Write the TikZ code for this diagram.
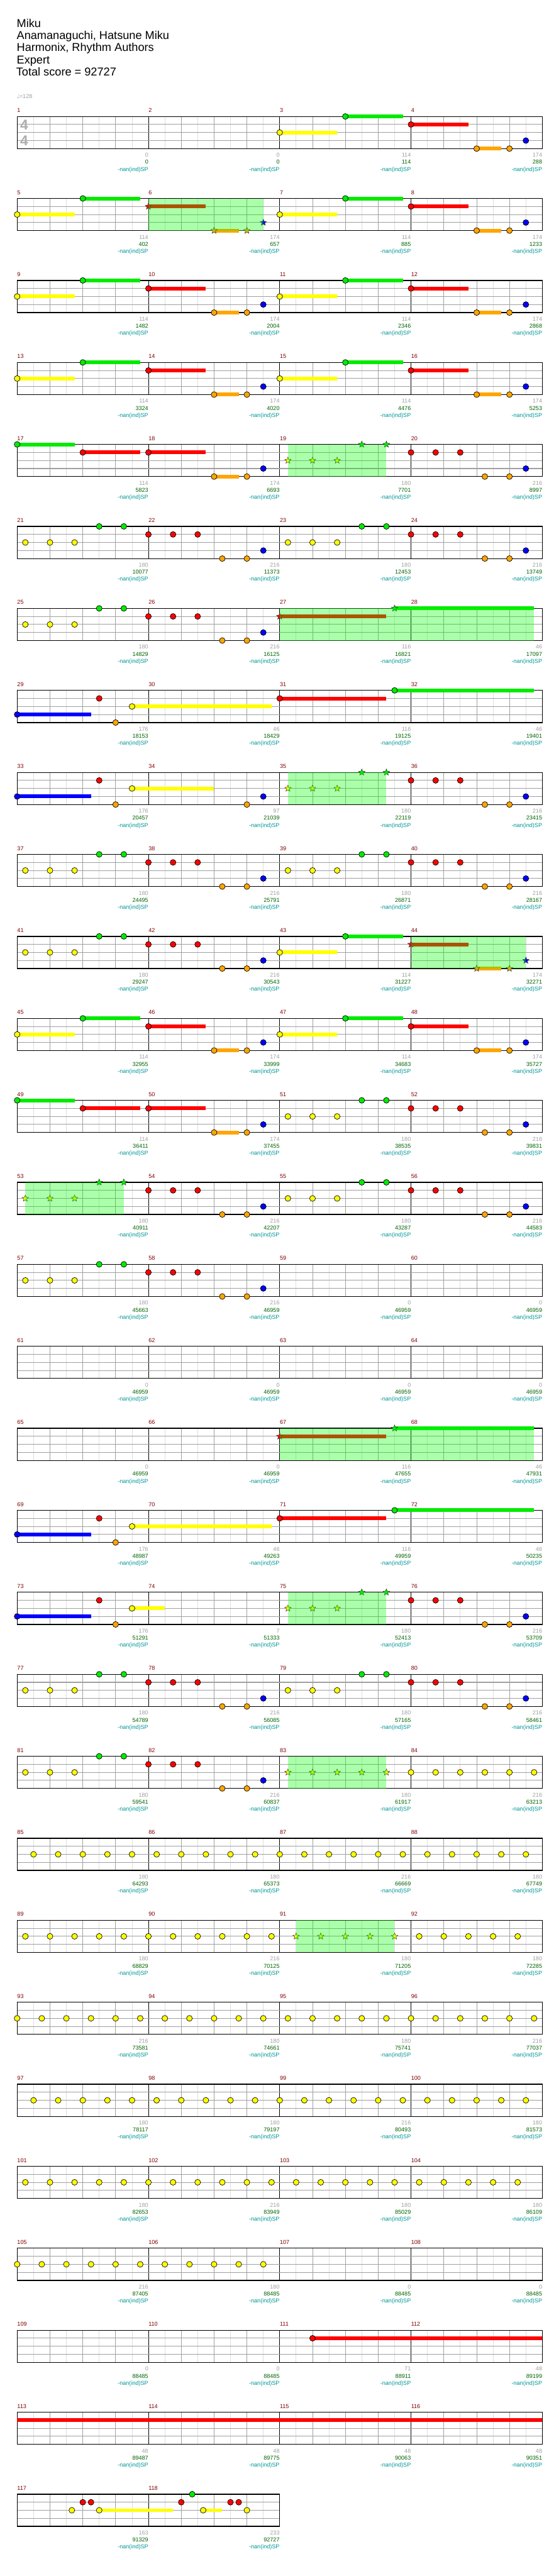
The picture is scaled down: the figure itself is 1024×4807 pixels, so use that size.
\documentclass[tikz,border=0pt]{standalone}
\usepackage{fontspec}
\setmainfont{Liberation Sans}
\newfontfamily\symfont{DejaVu Sans}
\usepackage{xcolor}
\definecolor{lane0}{RGB}{0, 235, 0}
\definecolor{lane1}{RGB}{255, 0, 0}
\definecolor{lane2}{RGB}{255, 255, 0}
\definecolor{lane3}{RGB}{0, 0, 255}
\definecolor{lane4}{RGB}{255, 165, 0}
\definecolor{barred}{RGB}{128, 0, 0}
\definecolor{gaingray}{RGB}{160, 160, 160}
\definecolor{scoregreen}{RGB}{0, 100, 0}
\definecolor{spteal}{RGB}{0, 150, 150}
\definecolor{subgray}{RGB}{222, 222, 222}
\definecolor{beatgray}{RGB}{160, 160, 160}
\definecolor{spgreen}{RGB}{0, 255, 0}
\usepackage{tikz}
\usetikzlibrary{shapes.geometric}

\newcounter{starno}
% x of beat #2 in measure #1, top line of the row of measure #1
\newcommand{\bx}[2]{32+245*mod(#1-1,4)+61.25*(#2)}
\newcommand{\ry}[1]{217.3+153*div(#1-1,4)}
% notes: measure, beat, lane (0 green .. 4 orange), length in beats
\newcommand{\hit}[3]{\filldraw[notehead, fill=lane#3] ({\bx{#1}{#2}},{\ry{#1}+15*#3}) circle[radius=5.4];}
\newcommand{\hold}[4]{\fill[lane#3] ({\bx{#1}{#2}},{\ry{#1}+15*#3-3.5}) rectangle ++({61.25*(#4)},7);\hit{#1}{#2}{#3}}
\newcommand{\spstar}[3]{\stepcounter{starno}\node[starnote, fill=lane#3] (sn\arabic{starno}) at ({\bx{#1}{#2}},{\ry{#1}+15*#3}) {};}
\newcommand{\sphold}[4]{\fill[lane#3] ({\bx{#1}{#2}},{\ry{#1}+15*#3-3.5}) rectangle ++({61.25*(#4)},7);\spstar{#1}{#2}{#3}}
\newcommand{\spzone}[3]{\fill[spfill] ({\bx{#1}{#2}},{\ry{#1}}) rectangle ({\bx{#1}{#3}},{\ry{#1}+60});}
% the measures that repeat
\newcommand{\pA}[1]{\hold{#1}{0}{2}{1.75}\hold{#1}{2}{0}{1.75}}
\newcommand{\pB}[1]{\hold{#1}{0}{1}{1.75}\hold{#1}{2}{4}{0.75}\hit{#1}{3}{4}\hit{#1}{3.5}{3}}
\newcommand{\pBs}[1]{\sphold{#1}{0}{1}{1.75}\sphold{#1}{2}{4}{0.75}\spstar{#1}{3}{4}\spstar{#1}{3.5}{3}}
\newcommand{\pC}[1]{\foreach \b in {0.25,1,1.75}{\hit{#1}{\b}{2}}\hit{#1}{2.5}{0}\hit{#1}{3.25}{0}}
\newcommand{\pCs}[1]{\foreach \b in {0.25,1,1.75}{\spstar{#1}{\b}{2}}\spstar{#1}{2.5}{0}\spstar{#1}{3.25}{0}}
\newcommand{\pD}[1]{\foreach \b in {0,0.75,1.5}{\hit{#1}{\b}{1}}\hit{#1}{2.25}{4}\hit{#1}{3}{4}\hit{#1}{3.5}{3}}
\newcommand{\pE}[1]{\hold{#1}{0}{3}{2.25}\hit{#1}{2.5}{1}\hit{#1}{3}{4}}

\begin{document}
\begin{tikzpicture}[
  x=0.75pt, y=-0.75pt,
  subline/.style={draw=subgray, line width=0.75pt},
  beatline/.style={draw=beatgray, line width=0.75pt},
  barline/.style={draw=black, line width=0.75pt},
  laneline/.style={draw=beatgray, line width=0.9pt},
  staffedge/.style={draw=black, line width=1.1pt},
  notehead/.style={draw=black, line width=0.6pt},
  starnote/.style={star, star points=5, star point ratio=2.3, minimum size=9.5pt, inner sep=0pt, draw=black!80, line width=0.45pt},
  spfill/.style={fill=spgreen, fill opacity=0.33},
  titletext/.style={anchor=base west, inner sep=0pt, font=\fontsize{16}{18}\selectfont},
  tempotext/.style={anchor=base west, inner sep=0pt, text=gaingray, font=\fontsize{8}{9}\selectfont},
  meter/.style={inner sep=0pt, text=gaingray!85, font=\fontsize{20}{22}\selectfont\bfseries},
  barnum/.style={anchor=base west, inner sep=0pt, text=barred, font=\fontsize{8}{9}\selectfont},
  gainnum/.style={anchor=base east, inner sep=0pt, text=gaingray, font=\fontsize{8}{9}\selectfont},
  scorenum/.style={anchor=base east, inner sep=0pt, text=scoregreen, font=\fontsize{8}{9}\selectfont},
  spnote/.style={anchor=base east, inner sep=0pt, text=spteal, font=\fontsize{8}{9}\selectfont}
]
\path[use as bounding box, fill=white] (0,0) rectangle (1024,4807);

\node[titletext] (song) at (31,50.5) {Miku};
\node[titletext] (artist) at (31,73.3) {Anamanaguchi, Hatsune Miku};
\node[titletext] (charter) at (31,96.1) {Harmonix, Rhythm Authors};
\node[titletext] (level) at (31,118.9) {Expert};
\node[titletext] (total) at (30,141.7) {Total score = 92727};
\node[tempotext] (bpm) at (31,184) {{\symfont ♩}=128};

% staves
\foreach \r in {0,...,29}{
  \pgfmathsetmacro\tp{217.3+153*\r}
  \ifnum\r<29 \def\nm{4}\else\def\nm{2}\fi
  \pgfmathtruncatemacro\ne{8*\nm-1}
  \pgfmathtruncatemacro\nq{4*\nm-1}
  \pgfmathtruncatemacro\nbar{\nm-1}
  \foreach \i in {0,...,\ne} \draw[subline] ({32+30.625*\i},\tp) -- ++(0,60);
  \foreach \i in {1,...,\nq} \draw[beatline] ({32+61.25*\i},\tp) -- ++(0,60);
  \foreach \i in {1,...,\nbar} \draw[barline] ({32+245*\i},\tp) -- ++(0,60);
  \foreach \j in {15,30,45} \draw[laneline] (32,\tp+\j) -- ({32+245*\nm},\tp+\j);
  \draw[staffedge] (32,\tp) rectangle ({32+245*\nm},\tp+60);
}
\node[meter] (tsnum) at (45,233) {4};
\node[meter] (tsden) at (45,263) {4};

% notes
\pA{3}\pB{4}
\pA{5}\pBs{6}\pA{7}\pB{8}
\pA{9}\pB{10}\pA{11}\pB{12}
\pA{13}\pB{14}\pA{15}\pB{16}
\hold{17}{0}{0}{1.75}\hold{17}{2}{1}{1.75}\pB{18}\pCs{19}\pD{20}
\pC{21}\pD{22}\pC{23}\pD{24}
\pC{25}\pD{26}\sphold{27}{0}{1}{3.25}\sphold{27}{3.5}{0}{4.25}
\pE{29}\hold{29}{3.5}{2}{4.25}\hold{31}{0}{1}{3.25}\hold{31}{3.5}{0}{4.25}
\pE{33}\hold{33}{3.5}{2}{2.5}\hit{34}{3}{4}\hit{34}{3.5}{3}\pCs{35}\pD{36}
\pC{37}\pD{38}\pC{39}\pD{40}
\pC{41}\pD{42}\pA{43}\pBs{44}
\pA{45}\pB{46}\pA{47}\pB{48}
\hold{49}{0}{0}{1.75}\hold{49}{2}{1}{1.75}\pB{50}\pC{51}\pD{52}
\pCs{53}\pD{54}\pC{55}\pD{56}
\pC{57}\pD{58}
\sphold{67}{0}{1}{3.25}\sphold{67}{3.5}{0}{4.25}
\pE{69}\hold{69}{3.5}{2}{4.25}\hold{71}{0}{1}{3.25}\hold{71}{3.5}{0}{4.25}
\pE{73}\hold{73}{3.5}{2}{1}\pCs{75}\pD{76}
\pC{77}\pD{78}\pC{79}\pD{80}
\pC{81}\pD{82}
\foreach \b in {0.25,1,1.75,2.5,3.25}{\spstar{83}{\b}{2}}
\foreach \b in {0,0.75,...,3.75}{\hit{84}{\b}{2}}
\foreach \k in {0,...,20}{\hit{85}{0.5+0.75*\k}{2}}
\foreach \k in {0,...,10,16,17,...,20}{\hit{89}{0.25+0.75*\k}{2}}
\foreach \k in {11,...,15}{\spstar{89}{0.25+0.75*\k}{2}}
\foreach \k in {0,...,21}{\hit{93}{0.75*\k}{2}}
\foreach \k in {0,...,20}{\hit{97}{0.5+0.75*\k}{2}}
\foreach \k in {0,...,20}{\hit{101}{0.25+0.75*\k}{2}}
\foreach \k in {0,...,10}{\hit{105}{0.75*\k}{2}}
\hold{111}{1}{1}{7}
\fill[lane1] ({\bx{113}{0}},{\ry{113}+11.5}) rectangle ++(980,7);
\hit{117}{5/3}{2}\hit{117}{2}{1}\hit{117}{2.25}{1}\hold{117}{2.5}{2}{2.25}
\hit{117}{5}{1}\hit{117}{16/3}{0}\hold{117}{17/3}{2}{6.25-17/3}
\hit{117}{6.5}{1}\hit{117}{6.75}{1}\hit{117}{7}{2}

% star power
\spzone{6}{0}{3.5}
\spzone{19}{0.25}{3.25}
\spzone{27}{0}{7.75}
\spzone{35}{0.25}{3.25}
\spzone{44}{0}{3.5}
\spzone{53}{0.25}{3.25}
\spzone{67}{0}{7.75}
\spzone{75}{0.25}{3.25}
\spzone{83}{0.25}{3.25}
\spzone{91}{0.5}{3.5}

% measure numbers and scores
\foreach \m/\g/\s in {1/0/0,2/0/0,3/114/114,4/174/288,5/114/402,6/174/657,7/114/885,8/174/1233,
  9/114/1482,10/174/2004,11/114/2346,12/174/2868,13/114/3324,14/174/4020,15/114/4476,16/174/5253,
  17/114/5823,18/174/6693,19/180/7701,20/216/8997,21/180/10077,22/216/11373,23/180/12453,24/216/13749,
  25/180/14829,26/216/16125,27/116/16821,28/46/17097,29/176/18153,30/46/18429,31/116/19125,32/46/19401,
  33/176/20457,34/97/21039,35/180/22119,36/216/23415,37/180/24495,38/216/25791,39/180/26871,40/216/28167,
  41/180/29247,42/216/30543,43/114/31227,44/174/32271,45/114/32955,46/174/33999,47/114/34683,48/174/35727,
  49/114/36411,50/174/37455,51/180/38535,52/216/39831,53/180/40911,54/216/42207,55/180/43287,56/216/44583,
  57/180/45663,58/216/46959,59/0/46959,60/0/46959,61/0/46959,62/0/46959,63/0/46959,64/0/46959,
  65/0/46959,66/0/46959,67/116/47655,68/46/47931,69/176/48987,70/46/49263,71/116/49959,72/46/50235,
  73/176/51291,74/7/51333,75/180/52413,76/216/53709,77/180/54789,78/216/56085,79/180/57165,80/216/58461,
  81/180/59541,82/216/60837,83/180/61917,84/216/63213,85/180/64293,86/180/65373,87/216/66669,88/180/67749,
  89/180/68829,90/216/70125,91/180/71205,92/180/72285,93/216/73581,94/180/74661,95/180/75741,96/216/77037,
  97/180/78117,98/180/79197,99/216/80493,100/180/81573,101/180/82653,102/216/83949,103/180/85029,104/180/86109,
  105/216/87405,106/180/88485,107/0/88485,108/0/88485,109/0/88485,110/0/88485,111/71/88911,112/48/89199,
  113/48/89487,114/48/89775,115/48/90063,116/48/90351,117/163/91329,118/233/92727}{
  \pgfmathtruncatemacro\rw{div(\m-1,4)}
  \pgfmathtruncatemacro\cl{mod(\m-1,4)}
  \pgfmathsetmacro\tp{217.3+153*\rw}
  \node[barnum] (bn\m) at ({32+245*\cl},\tp-7.5) {\m};
  \node[gainnum] (gn\m) at ({277+245*\cl},\tp+75.8) {\g};
  \node[scorenum] (sc\m) at ({277+245*\cl},\tp+89) {\s};
  \node[spnote] (sp\m) at ({277+245*\cl},\tp+102) {-nan(ind)SP};
}
\end{tikzpicture}
\end{document}
